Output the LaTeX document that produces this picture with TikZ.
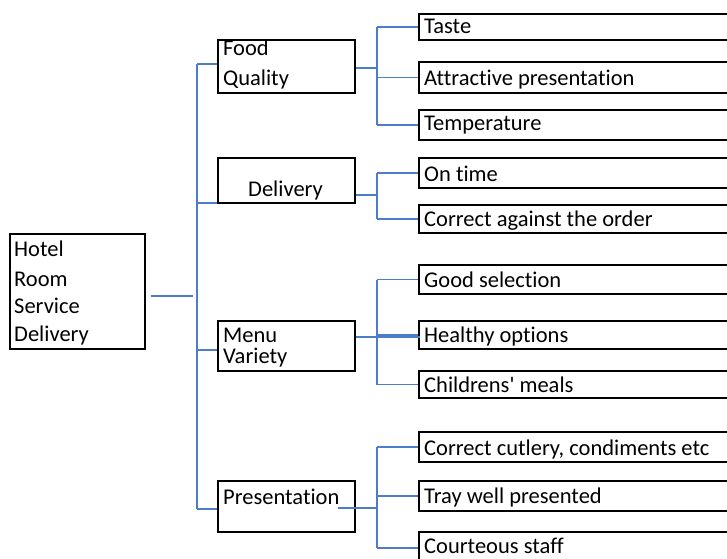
\documentclass[tikz,border=0pt]{standalone}
\usepackage{fontspec}
\setmainfont{Carlito}[Ligatures=NoCommon]
\definecolor{linkblue}{RGB}{75,125,200}
\tikzset{
  box/.style={draw, line width=1.2pt, inner sep=0pt},
  link/.style={draw=linkblue, line width=1.1pt},
  txt/.style={anchor=base west, inner sep=0pt, font=\fontsize{22.5}{27}\selectfont},
}

\begin{document}
\begin{tikzpicture}[x=1pt,y=-1pt]
  \clip (0,0) rectangle (727,558);
  % root box
  \node[box, minimum width=135, minimum height=115] (hotel) at (77.5,291.5) {};
  \node[txt] (hotel-1) at (14,256.7) {Hotel};
  \node[txt] (hotel-2) at (14,286.7) {Room};
  \node[txt] (hotel-3) at (14,313.3) {Service};
  \node[txt] (hotel-4) at (14,341.7) {Delivery};
  % main groups
  \node[box, minimum width=137, minimum height=53] (food) at (286.5,66.5) {};
  \node[txt] (food-1) at (223,55) {Food};
  \node[txt] (food-2) at (223,85) {Quality};
  \node[box, minimum width=137, minimum height=45] (deliv) at (286.5,180.5) {};
  \node[txt] (deliv-1) at (248,196.7) {Delivery};
  \node[box, minimum width=137, minimum height=50] (menu) at (286.5,346) {};
  \node[txt, align=left, font=\fontsize{22.5}{20.5}\selectfont] (menu-1) at (223,363) {Menu\\Variety};
  \node[box, minimum width=137, minimum height=51] (pres) at (286.5,506.5) {};
  \node[txt] (pres-1) at (223,504) {Presentation};
  % sub items
  \foreach \n/\yc/\h/\base/\lbl in {
      taste/27/26/33/Taste,
      attract/77.5/31/85/Attractive presentation,
      temp/125/30/130/Temperature,
      ontime/173/30/181.7/On time,
      order/219/28/226.7/Correct against the order,
      good/279.5/29/287.3/Good selection,
      healthy/335/28/342.7/Healthy options,
      kids/384.5/27/392.7/Childrens\textquotesingle{} meals,
      cutlery/447/30/455/{Correct cutlery, condiments etc},
      tray/496/30/503.3/Tray well presented,
      staff/548/32/553.3/Courteous staff}
  {
    \node[box, minimum width=321, minimum height=\h] (\n) at (579.5,\yc) {};
    \node[txt] (\n-t) at (424,\base) {\lbl};
  }

  % trunk
  \coordinate (tr1) at (197,64);
  \coordinate (tr2) at (197,203);
  \coordinate (tr3) at (197,350);
  \coordinate (tr4) at (197,509);
  \draw[link] ([shift={(5,4.5)}]hotel.east) -- ++(42,0);
  \draw[link] (tr1) -- (tr4);
  \draw[link] (tr1) -- (food.west |- tr1);
  \draw[link] (tr2) -- (deliv.west |- tr2);
  \draw[link] (tr3) -- (menu.west |- tr3);
  \draw[link] (tr4) -- (pres.west |- tr4);

  % buses
  \coordinate (bus) at (377,0);
  \draw[link] ([shift={(0,1.5)}]food.east) -- ++(22,0);
  \draw[link] ([shift={(0,14.5)}]deliv.east) -- ++(22,0);
  \draw[link] ([shift={(0,-9)}]menu.east) -- ++(64,0);
  \draw[link] ([shift={(-18,1.5)}]pres.east) -- ++(40,0);
  \draw[link] (bus |- taste.west) -- (bus |- temp.west);
  \draw[link] (bus |- ontime.west) -- (bus |- order.west);
  \draw[link] (bus |- good.west) -- (bus |- kids.west);
  \draw[link] (bus |- cutlery.west) -- (bus |- staff.west);
  \foreach \n in {taste,attract,temp,ontime,order,good,healthy,kids,cutlery,tray,staff}
    \draw[link] (bus |- \n.west) -- (\n.west);
\end{tikzpicture}
\end{document}
